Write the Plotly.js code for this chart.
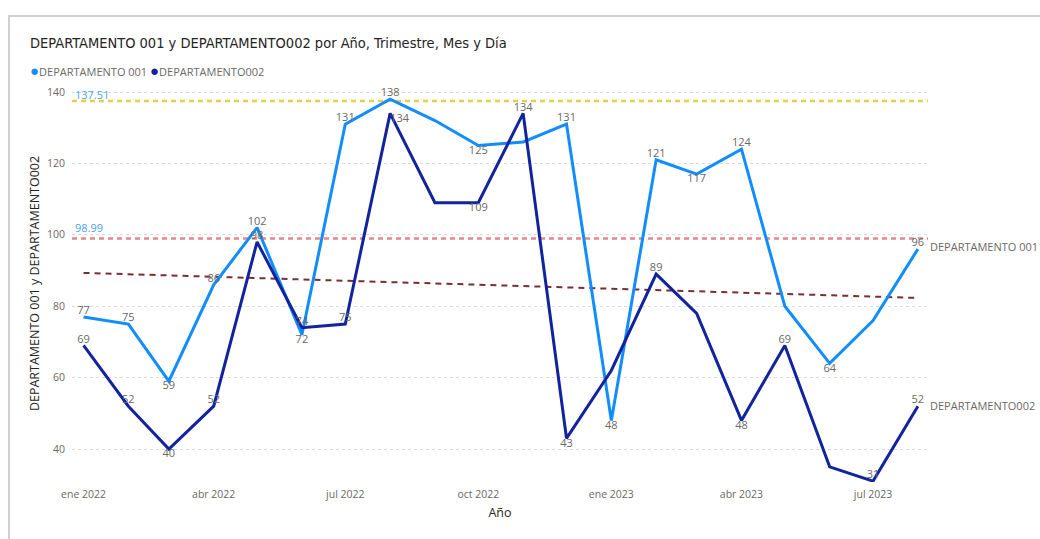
<!DOCTYPE html>
<html>
<head>
<meta charset="utf-8">
<script src="https://cdn.plot.ly/plotly-3.0.1.min.js"></script>
<style>
  html, body { margin: 0; padding: 0; background: #fff; }
  #frame { position: absolute; left: 8px; top: 15px; width: 1040px; height: 530px; border-left: 2px solid #d0d0d0; border-top: 2px solid #d0d0d0; }
  #chart { position: absolute; left: 0; top: 0; width: 1040px; height: 539px; }
</style>
</head>
<body>
<div id="frame"></div>
<div id="chart"></div>
<script>
// ---- data ----
const months = ['2022-01-01','2022-02-01','2022-03-01','2022-04-01','2022-05-01','2022-06-01',
                '2022-07-01','2022-08-01','2022-09-01','2022-10-01','2022-11-01','2022-12-01',
                '2023-01-01','2023-02-01','2023-03-01','2023-04-01','2023-05-01','2023-06-01',
                '2023-07-01','2023-08-01'];
const dept001 = [77, 75, 59, 86, 102, 72, 131, 138, 132, 125, 126, 131, 48, 121, 117, 124, 80, 64, 76, 96];
const dept002 = [69, 52, 40, 52, 98, 74, 75, 134, 109, 109, 134, 43, 62, 89, 78, 48, 69, 35, 31, 52];
const seriesNames = ['DEPARTAMENTO 001', 'DEPARTAMENTO002'];
const tickVals = ['2022-01-01','2022-04-01','2022-07-01','2022-10-01','2023-01-01','2023-04-01','2023-07-01'];
const tickText = ['ene 2022','abr 2022','jul 2022','oct 2022','ene 2023','abr 2023','jul 2023'];
const refValues = [137.51, 98.99];
const refLabels = ['137.51', '98.99'];
// labels hidden by overlap in the original
const hidden001 = [8, 10, 16, 18];
const hidden002 = [8, 12, 14, 17];

// ---- styling ----
const c1 = '#118DFF', c2 = '#12239E';
const labelColor = '#6b6966';
const refColors = ['#E8CF4A', '#E8878A'];
const T = 'top center', B = 'bottom center';
const pos001 = [T, T, B, T, T, B, T, T, T, B, B, T, B, T, B, T, B, B, B, T];
const pos002 = [T, T, B, T, T, T, T, 'bottom right', B, B, T, B, B, T, B, B, T, B, T, T];

function labels(vals, hide) {
  return vals.map((v, i) => hide.includes(i) ? '' : String(v));
}

// trend line (least squares over both series vs month index)
const xs = [], ys = [];
months.forEach((m, i) => { xs.push(i, i); ys.push(dept001[i], dept002[i]); });
const n = xs.length;
const mx = xs.reduce((a,b)=>a+b,0)/n, my = ys.reduce((a,b)=>a+b,0)/n;
let sxy = 0, sxx = 0;
for (let k = 0; k < n; k++) { sxy += (xs[k]-mx)*(ys[k]-my); sxx += (xs[k]-mx)**2; }
const slope = sxy / sxx, icpt = my - slope*mx;
const trendY = [icpt, icpt + slope*(months.length-1)];
const trendX = [months[0], months[months.length-1]];

const font = 'Open Sans, Noto Sans, sans-serif';
const xRange = ['2021-12-24', '2023-08-08'];

const traces = [
  { x: xRange, y: [refValues[0], refValues[0]], mode: 'lines', line: {color: refColors[0], width: 2.5, dash: '5px,4px'}, showlegend: false, hoverinfo: 'skip' },
  { x: xRange, y: [refValues[1], refValues[1]], mode: 'lines', line: {color: refColors[1], width: 2.5, dash: '5px,4px'}, showlegend: false, hoverinfo: 'skip' },
  { x: trendX, y: trendY, mode: 'lines', line: {color: '#7A2E30', width: 2, dash: '6px,5px'}, showlegend: false, hoverinfo: 'skip' },
  { x: months, y: dept001, name: seriesNames[0], mode: 'lines+text', line: {color: c1, width: 3},
    text: labels(dept001, hidden001), textposition: pos001,
    textfont: {color: labelColor, size: 11, family: font}, showlegend: false, cliponaxis: false },
  { x: months, y: dept002, name: seriesNames[1], mode: 'lines+text', line: {color: c2, width: 3},
    text: labels(dept002, hidden002), textposition: pos002,
    textfont: {color: labelColor, size: 11, family: font}, showlegend: false, cliponaxis: false }
];

const dot = c => '<span style="color:' + c + ';font-size:15px">●</span>';
const legendText = dot(c1) + seriesNames[0] + ' ' + dot(c2) + seriesNames[1];

const plotL = 72, plotR = 928, plotT = 85, plotB = 482;

const annotations = [
  { x: months[months.length-1], y: dept001[dept001.length-1], xref: 'x', yref: 'y', text: seriesNames[0],
    showarrow: false, xanchor: 'left', yanchor: 'middle', xshift: 10, yshift: 3, font: {color: labelColor, size: 11, family: font} },
  { x: months[months.length-1], y: dept002[dept002.length-1], xref: 'x', yref: 'y', text: seriesNames[1],
    showarrow: false, xanchor: 'left', yanchor: 'middle', xshift: 10, yshift: 1, font: {color: labelColor, size: 11, family: font} },
  { x: xRange[0], y: refValues[0], xref: 'x', yref: 'y', text: refLabels[0], showarrow: false,
    xanchor: 'left', yanchor: 'bottom', xshift: 1, yshift: -3, font: {color: '#4DA3F5', size: 11, family: font} },
  { x: xRange[0], y: refValues[1], xref: 'x', yref: 'y', text: refLabels[1], showarrow: false,
    xanchor: 'left', yanchor: 'bottom', xshift: 1, yshift: 1, font: {color: '#4DA3F5', size: 11, family: font} },
  { x: (28 - plotL) / (plotR - plotL), y: (plotB - 70) / (plotB - plotT), xref: 'paper', yref: 'paper',
    text: legendText, showarrow: false, xanchor: 'left', yanchor: 'middle',
    font: {color: labelColor, size: 11, family: font} }
];

const layout = {
  width: 1040, height: 539,
  paper_bgcolor: 'rgba(0,0,0,0)', plot_bgcolor: 'rgba(0,0,0,0)',
  margin: {l: plotL, r: 1040 - plotR, t: plotT, b: 539 - plotB},
  font: {family: font, color: labelColor},
  title: { text: 'DEPARTAMENTO 001 y DEPARTAMENTO002 por Año, Trimestre, Mes y Día',
           x: 30/1040, xref: 'container', xanchor: 'left', y: 1 - 43/539, yref: 'container', yanchor: 'middle',
           font: {family: 'DejaVu Sans Condensed, Roboto, sans-serif', size: 14.5, color: '#252423'} },
  showlegend: false,
  xaxis: { type: 'date', range: xRange, tickvals: tickVals, ticktext: tickText, showgrid: false, zeroline: false,
           showline: false, ticks: '', tickfont: {size: 10.5, color: labelColor}, ticklabelstandoff: 4,
           title: {text: 'Año', font: {size: 12.5, color: '#252423'}, standoff: 8} },
  yaxis: { range: [30.76, 141.96], tickvals: [40, 60, 80, 100, 120, 140], showgrid: true, gridcolor: '#dcdcdc',
           griddash: 'dot', gridwidth: 1, zeroline: false, showline: false, ticks: '',
           tickfont: {size: 10.5, color: labelColor}, ticklabelstandoff: 6,
           title: {text: 'DEPARTAMENTO 001 y DEPARTAMENTO002', font: {size: 12.5, color: '#252423'}, standoff: 4} },
  annotations: annotations
};

Plotly.newPlot('chart', traces, layout, {displayModeBar: false, staticPlot: true});
</script>
</body>
</html>
